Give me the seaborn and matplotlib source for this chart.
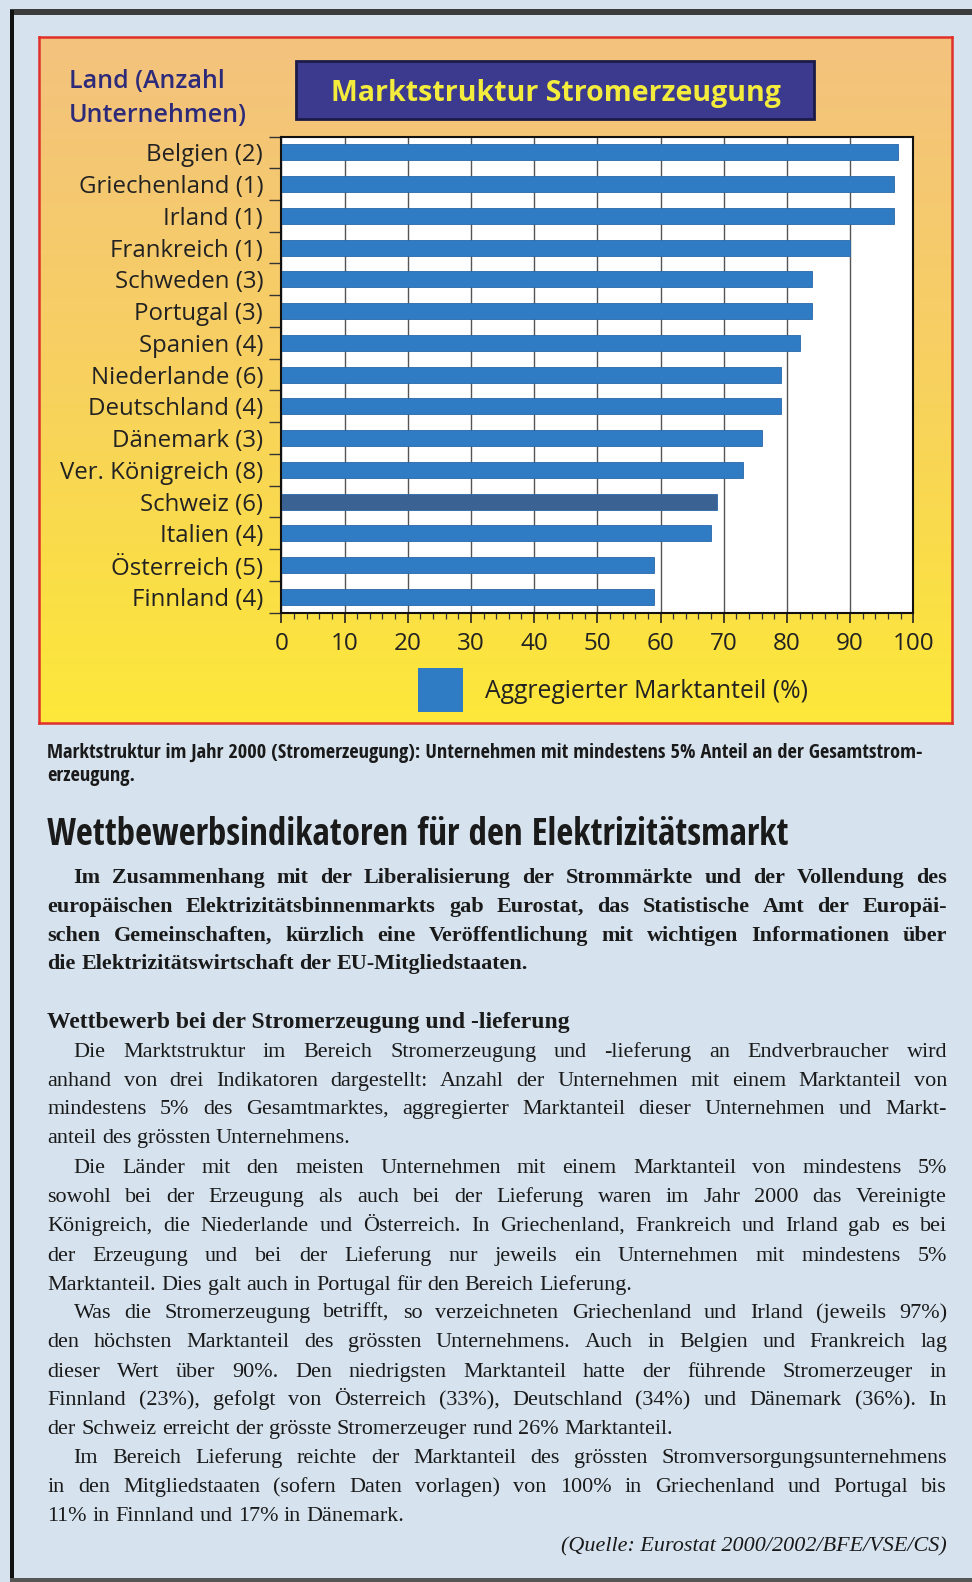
import numpy as np
import pandas as pd
import matplotlib
matplotlib.use("Agg")
import matplotlib.pyplot as plt
import seaborn as sns
from matplotlib.patches import Rectangle, Patch
from matplotlib.colors import LinearSegmentedColormap
from matplotlib.ticker import MultipleLocator

# === Daten der Grafik ===
laender = ["Belgien", "Griechenland", "Irland", "Frankreich", "Schweden", "Portugal",
           "Spanien", "Niederlande", "Deutschland", "Dänemark", "Ver. Königreich",
           "Schweiz", "Italien", "Österreich", "Finnland"]
anzahl = [2, 1, 1, 1, 3, 3, 4, 6, 4, 3, 8, 6, 4, 5, 4]
marktanteil = [97.5, 97, 97, 90, 84, 84, 82, 79, 79, 76, 73, 69, 68, 59, 59]
hervorgehoben = "Schweiz"
x_ticks = [0, 10, 20, 30, 40, 50, 60, 70, 80, 90, 100]

titel = "Marktstruktur Stromerzeugung"
achsen_titel = ["Land (Anzahl", "Unternehmen)"]
legende = "Aggregierter Marktanteil (%)"

# === Texte der Seite ===
bildtext = ["Marktstruktur im Jahr 2000 (Stromerzeugung): Unternehmen mit mindestens 5% Anteil an der Gesamtstrom-",
            "erzeugung."]
ueberschrift = "Wettbewerbsindikatoren für den Elektrizitätsmarkt"
lead = ["Im Zusammenhang mit der Liberalisierung der Strommärkte und der Vollendung des",
        "europäischen Elektrizitätsbinnenmarkts gab Eurostat, das Statistische Amt der Europäi-",
        "schen Gemeinschaften, kürzlich eine Veröffentlichung mit wichtigen Informationen über",
        "die Elektrizitätswirtschaft der EU-Mitgliedstaaten."]
zwischentitel = "Wettbewerb bei der Stromerzeugung und -lieferung"
absaetze = [
    ["Die Marktstruktur im Bereich Stromerzeugung und -lieferung an Endverbraucher wird",
     "anhand von drei Indikatoren dargestellt: Anzahl der Unternehmen mit einem Marktanteil von",
     "mindestens 5% des Gesamtmarktes, aggregierter Marktanteil dieser Unternehmen und Markt-",
     "anteil des grössten Unternehmens."],
    ["Die Länder mit den meisten Unternehmen mit einem Marktanteil von mindestens 5%",
     "sowohl bei der Erzeugung als auch bei der Lieferung waren im Jahr 2000 das Vereinigte",
     "Königreich, die Niederlande und Österreich. In Griechenland, Frankreich und Irland gab es bei",
     "der Erzeugung und bei der Lieferung nur jeweils ein Unternehmen mit mindestens 5%",
     "Marktanteil. Dies galt auch in Portugal für den Bereich Lieferung."],
    ["Was die Stromerzeugung betrifft, so verzeichneten Griechenland und Irland (jeweils 97%)",
     "den höchsten Marktanteil des grössten Unternehmens. Auch in Belgien und Frankreich lag",
     "dieser Wert über 90%. Den niedrigsten Marktanteil hatte der führende Stromerzeuger in",
     "Finnland (23%), gefolgt von Österreich (33%), Deutschland (34%) und Dänemark (36%). In",
     "der Schweiz erreicht der grösste Stromerzeuger rund 26% Marktanteil."],
    ["Im Bereich Lieferung reichte der Marktanteil des grössten Stromversorgungsunternehmens",
     "in den Mitgliedstaaten (sofern Daten vorlagen) von 100% in Griechenland und Portugal bis",
     "11% in Finnland und 17% in Dänemark."],
]
quelle = "(Quelle: Eurostat 2000/2002/BFE/VSE/CS)"

W, H = 972, 1582
sns.set_theme(style="white")
plt.rcParams["font.family"] = ["Open Sans", "DejaVu Sans"]

fig = plt.figure(figsize=(W / 100, H / 100), dpi=100)
fig.patch.set_facecolor("#d6e3ef")


def fx(px):
    return px / W


def fy(py):
    return 1 - py / H


# === Seitenrand ===
fig.add_artist(Rectangle((fx(10), fy(15)), fx(W - 10), 6 / H, transform=fig.transFigure,
                         facecolor="#3c3c3c", edgecolor="none"))
fig.add_artist(Rectangle((fx(10), fy(H)), fx(3.5), (H - 10) / H, transform=fig.transFigure,
                         facecolor="#111111", edgecolor="none"))
fig.add_artist(Rectangle((fx(10), fy(H)), fx(W - 10), 4 / H, transform=fig.transFigure,
                         facecolor="#555555", edgecolor="none"))

# === Hintergrund der Grafik (Verlauf orange -> gelb) ===
ax_bg = fig.add_axes([fx(38.5), fy(723), fx(951.5 - 38.5), (723 - 36.5) / H], zorder=0)
verlauf = LinearSegmentedColormap.from_list(
    "verlauf", [(0, "#f3c27e"), (0.45, "#f7cf63"), (0.75, "#fadc4a"), (1, "#fde83a")])
ax_bg.imshow(np.linspace(0, 1, 256).reshape(-1, 1), cmap=verlauf, aspect="auto",
             extent=[0, 1, 0, 1], origin="upper")
ax_bg.set_xticks([])
ax_bg.set_yticks([])
for s in ax_bg.spines.values():
    s.set_color("#e0302a")
    s.set_linewidth(1.8)

# === Balkendiagramm ===
ax = fig.add_axes([fx(281.3), fy(612.7), fx(913.3 - 281.3), (612.7 - 136.5) / H], zorder=2)
ax.set_facecolor("white")
df = pd.DataFrame({"Land": [f"{l} ({n})" for l, n in zip(laender, anzahl)],
                   "Anteil": marktanteil})
farben = {f"{l} ({n})": ("#3a6393" if l == hervorgehoben else "#2f7cc4")
          for l, n in zip(laender, anzahl)}
sns.barplot(data=df, x="Anteil", y="Land", hue="Land", palette=farben, legend=False,
            width=0.5, saturation=1, edgecolor="#2a68a8", linewidth=0.6, ax=ax)

ax.set_xlim(0, 100)
ax.set_ylim(14.5, -0.5)
ax.set_xticks(x_ticks)
ax.xaxis.set_minor_locator(MultipleLocator(2))
ax.set_yticks(np.arange(-0.5, 15, 1), minor=True)
ax.xaxis.grid(True, which="major", color="#555555", linewidth=1.0)
ax.set_axisbelow(True)
ax.set_xlabel("")
ax.set_ylabel("")
ax.tick_params(axis="x", which="major", direction="out", bottom=True, length=7, width=1.2,
               color="#222222", pad=7, labelsize=17.5, labelcolor="#222222")
ax.tick_params(axis="x", which="minor", direction="out", bottom=True, length=4, width=0.9,
               color="#333333")
ax.tick_params(axis="y", which="major", left=True, length=0, pad=13, labelsize=17.3,
               labelcolor="#222222")
ax.tick_params(axis="y", which="minor", direction="out", left=True, length=9, width=1.0,
               color="#333333")
for s in ax.spines.values():
    s.set_color("#111111")
    s.set_linewidth(1.5)

# Legende
fig.legend(handles=[Patch(facecolor="#2f7cc4", edgecolor="none")], labels=[legende],
           loc="center", bbox_to_anchor=(fx(613), fy(690)), frameon=False, fontsize=17.8,
           handlelength=1.8, handleheight=2.4, handletextpad=0.9, labelcolor="#222222")

# Titelbox
fig.add_artist(Rectangle((fx(295.7), fy(119.1)), fx(813.5 - 295.7), (119.1 - 60.6) / H,
                         transform=fig.transFigure, facecolor="#3b3a8e", edgecolor="#1c1b48",
                         linewidth=2, zorder=3))
fig.text(fx(555.5), fy(93), titel, ha="center", va="center", fontsize=20.5,
         fontweight="bold", color="#f4ec3c", zorder=4)
fig.text(fx(68.6), fy(81), achsen_titel[0], ha="left", va="center", fontsize=18,
         fontweight="semibold", color="#2d2a7a")
fig.text(fx(68.6), fy(116), achsen_titel[1], ha="left", va="center", fontsize=18,
         fontweight="semibold", color="#2d2a7a")

# === Textsatz ===
renderer = fig.canvas.get_renderer()


def breite(s, **kw):
    t = fig.text(0, 0, s, **kw)
    w = t.get_window_extent(renderer).width
    t.remove()
    return w


def passend(text, ziel, size, **kw):
    return size * ziel / breite(text, fontsize=size, **kw)


LINKS, RECHTS, EINZUG = 47.4, 947.0, 73.7


def satz_groesse(bloecke, size, **kw):
    # kleinste Groesse, bei der jede Zeile in die Spalte passt
    leer = breite("x x", fontsize=size, **kw) - breite("xx", fontsize=size, **kw)
    faktor = 1.0
    for zeilen in bloecke:
        for i, z in enumerate(zeilen):
            x0 = EINZUG if i == 0 else LINKS
            w = sum(breite(t, fontsize=size, **kw) for t in z.split(" ")) + leer * (len(z.split(" ")) - 1)
            faktor = min(faktor, (RECHTS - x0) / w)
    return size * faktor * 0.995


def absatz(zeilen, ys, size, color="#1a1a1a", **kw):
    leer = breite("x x", fontsize=size, **kw) - breite("xx", fontsize=size, **kw)
    for i, (z, y) in enumerate(zip(zeilen, ys)):
        x0 = EINZUG if i == 0 else LINKS
        woerter = z.split(" ")
        ws = [breite(t, fontsize=size, **kw) for t in woerter]
        if i == len(zeilen) - 1 or len(woerter) == 1:
            gap = leer
        else:
            gap = (RECHTS - x0 - sum(ws)) / (len(woerter) - 1)
        x = x0
        for t, b in zip(woerter, ws):
            fig.text(fx(x), fy(y), t, fontsize=size, ha="left", va="baseline", color=color, **kw)
            x += b + gap


schmal = dict(family=["Open Sans Condensed", "Open Sans Condensed Bold", "Open Sans"],
              fontweight="bold")
s_bild = passend(bildtext[0], 871, 13, **schmal)
fig.text(fx(LINKS), fy(758), bildtext[0], fontsize=s_bild, ha="left", va="baseline",
         color="#1a1a1a", **schmal)
fig.text(fx(LINKS), fy(781), bildtext[1], fontsize=s_bild, ha="left", va="baseline",
         color="#1a1a1a", **schmal)

s_head = passend(ueberschrift, 740, 22, **schmal)
fig.text(fx(LINKS), fy(845), ueberschrift, fontsize=s_head, ha="left", va="baseline",
         color="#1a1a1a", **schmal)

serif_b = dict(family=["Liberation Serif", "DejaVu Serif"], fontweight="bold")
serif = dict(family=["Liberation Serif", "DejaVu Serif"])
s_lead = satz_groesse([lead], 16, **serif_b)
absatz(lead, [883, 912, 941, 969], s_lead, **serif_b)

s_zw = passend(zwischentitel, 525, 15, **serif_b)
fig.text(fx(LINKS), fy(1028), zwischentitel, fontsize=s_zw, ha="left", va="baseline",
         color="#1a1a1a", **serif_b)

body_y = [[1057, 1086, 1114, 1143],
          [1173, 1202, 1231, 1261, 1290],
          [1318, 1347, 1377, 1405, 1434],
          [1463, 1492, 1521]]
s_body = satz_groesse(absaetze, 16, **serif)
for zeilen, ys in zip(absaetze, body_y):
    absatz(zeilen, ys, s_body, **serif)

fig.text(fx(RECHTS), fy(1551), quelle, fontsize=s_body, ha="right", va="baseline",
         color="#1a1a1a", fontstyle="italic", family=["Liberation Serif", "DejaVu Serif"])

fig.savefig("out.png", dpi=100, facecolor=fig.get_facecolor())
